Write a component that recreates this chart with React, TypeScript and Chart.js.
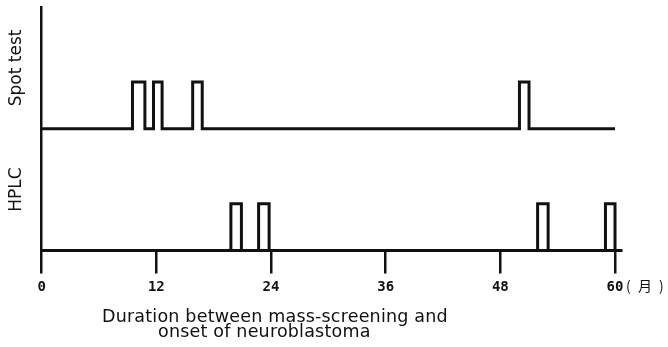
import { useEffect, useRef } from "react";
import { Chart, registerables } from "chart.js";

Chart.register(...registerables);

// ---- data ----
const monthTicks = [0, 12, 24, 36, 48, 60];
const panelNames = ["Spot test", "HPLC"];
const spotStart = [9.5, 11.7, 15.8, 50.0];
const spotEnd = [10.8, 12.6, 16.8, 51.0];
const hplcStart = [19.8, 22.7, 51.9, 59.0];
const hplcEnd = [20.9, 23.8, 53.0, 60.0];
const observationEnd = 60;
const unitLabel = "( 月 )";
const captionLines = ["Duration between mass-screening and", "onset of neuroblastoma"];

type Pt = { x: number; y: number };
function pulsePoints(starts: number[], ends: number[], last: number): Pt[] {
  const pts: Pt[] = [{ x: 0, y: 0 }];
  starts.forEach((s, i) => {
    pts.push({ x: s, y: 0 }, { x: s, y: 1 }, { x: ends[i], y: 1 }, { x: ends[i], y: 0 });
  });
  pts.push({ x: last, y: 0 });
  return pts;
}

const INK = "#111";

const captionPlugin = {
  id: "caption",
  afterDraw(chart: any) {
    const ctx = chart.ctx as CanvasRenderingContext2D;
    const xs = chart.scales.x;
    ctx.save();
    ctx.fillStyle = INK;
    ctx.textBaseline = "middle";
    ctx.textAlign = "left";
    ctx.font = '17.5px "DejaVu Sans"';
    (ctx as any).letterSpacing = "0.2px";
    ctx.fillText(captionLines[0], 102, 317);
    ctx.fillText(captionLines[1], 158, 332);
    ctx.font = '14px "Noto Sans CJK JP"';
    (ctx as any).letterSpacing = "2px";
    ctx.fillText(unitLabel, xs.getPixelForValue(observationEnd) + 11, 286);
    ctx.restore();
  },
};

export default function App() {
  const ref = useRef<HTMLCanvasElement | null>(null);
  useEffect(() => {
    if (!ref.current) return;
    const lineStyle = {
      borderColor: INK,
      borderWidth: 3,
      pointRadius: 0,
      tension: 0,
      fill: false,
      clip: false,
      borderJoinStyle: "miter" as const,
    };
    const chart = new Chart(ref.current, {
      type: "line",
      data: {
        datasets: [
          { label: panelNames[1], data: pulsePoints(hplcStart, hplcEnd, observationEnd), yAxisID: "yHPLC", ...lineStyle },
          { label: panelNames[0], data: pulsePoints(spotStart, spotEnd, observationEnd), yAxisID: "ySpot", ...lineStyle },
        ],
      },
      options: {
        responsive: false,
        animation: false,
        layout: { padding: { top: 7, left: 0, right: 46.3, bottom: 0 } },
        plugins: { legend: { display: false }, title: { display: false }, tooltip: { enabled: false } },
        scales: {
          x: {
            type: "linear",
            min: 0,
            max: 60.7,
            afterBuildTicks: (s: any) => {
              s.ticks = monthTicks.map((v) => ({ value: v }));
            },
            afterFit: (s: any) => {
              s.height = 96.5;
            },
            grid: { drawOnChartArea: false, drawTicks: true, tickLength: 23, color: INK, lineWidth: 2.5 },
            border: { display: true, color: INK, width: 3 },
            ticks: {
              color: INK,
              padding: 5,
              maxRotation: 0,
              autoSkip: false,
              font: { family: '"DejaVu Sans Mono"', size: 14, weight: "bold" },
            },
          },
          yHPLC: {
            type: "linear",
            position: "left",
            stack: "panels",
            stackWeight: 1,
            min: 0,
            max: 2.6,
            afterFit: (s: any) => {
              s.width = 41.7;
            },
            grid: { display: false },
            border: { display: true, color: INK, width: 2.5 },
            ticks: { display: false },
            title: { display: true, text: panelNames[1], color: INK, padding: { top: 6, bottom: 0 }, font: { family: '"DejaVu Sans"', size: 17 } },
          },
          ySpot: {
            type: "linear",
            position: "left",
            stack: "panels",
            stackWeight: 1,
            min: 0,
            max: 2.6,
            afterFit: (s: any) => {
              s.width = 41.7;
            },
            grid: { display: false },
            border: { display: true, color: INK, width: 2.5 },
            ticks: { display: false },
            title: { display: true, text: panelNames[0], color: INK, padding: { top: 6, bottom: 0 }, font: { family: '"DejaVu Sans"', size: 17 } },
          },
        },
      } as any,
      plugins: [captionPlugin],
    });
    return () => chart.destroy();
  }, []);
  return (
    <div style={{ position: "fixed", left: 0, top: 0, width: 668, height: 347, background: "#fff" }}>
      <canvas ref={ref} width={668} height={347} style={{ display: "block" }} />
    </div>
  );
}
